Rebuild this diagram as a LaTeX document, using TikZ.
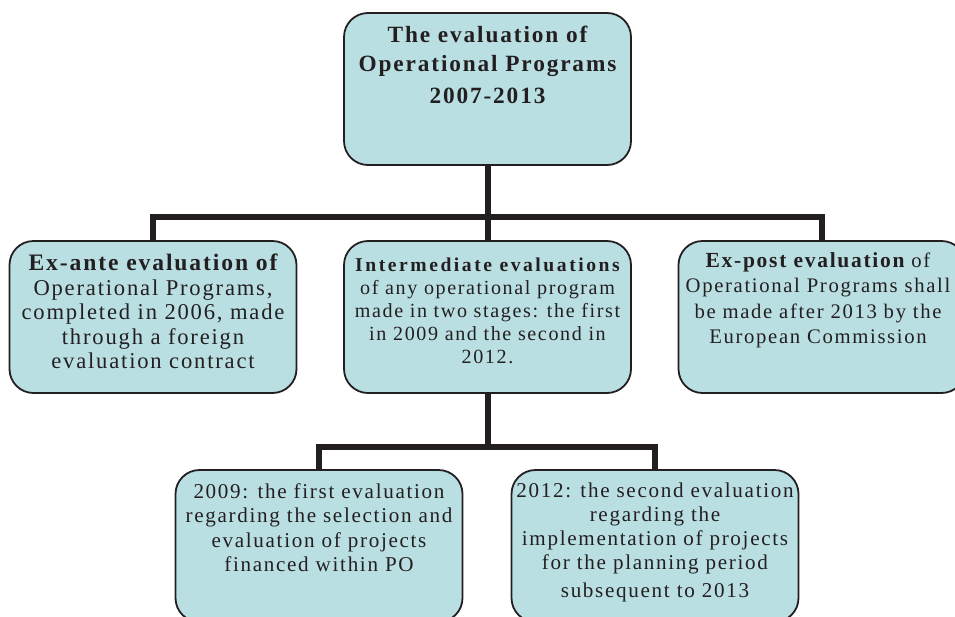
\documentclass[tikz,border=0pt]{standalone}
\usepackage{fontspec}
\setmainfont{Liberation Serif}[LetterSpace=8]
\definecolor{boxfill}{RGB}{186,223,227}
\definecolor{ink}{RGB}{35,31,32}
\begin{document}
\begin{tikzpicture}[x=1pt,y=-1pt,
  box/.style={draw=ink, line width=1.8pt, fill=boxfill, rounded corners=24pt,
    minimum width=287pt, minimum height=152pt, inner sep=0pt},
  txt/.style={anchor=north, align=center, inner sep=0pt, text=ink},
  conn/.style={draw=ink, line width=6pt}]
\useasboundingbox (0,0) rectangle (955,616);
\clip (0,0) rectangle (955,616);
% boxes
\node[box] (top) at (487.5,89) {};
\node[box] (exante) at (153,317) {};
\node[box] (inter) at (487.5,317) {};
\node[box] (expost) at (822,317) {};
\node[box] (first) at (319,546) {};
\node[box] (second) at (655,546) {};
% junctions
\coordinate (j1) at (487.5,217);
\coordinate (j2) at (487.5,447);
% connectors
\draw[conn] (top.south) -- (j1);
\draw[conn] (exante.north) |- (j1) -| (expost.north);
\draw[conn] (j1) -- (inter.north);
\draw[conn] (inter.south) -- (j2);
\draw[conn] (first.north) |- (j2) -| (second.north);
% texts
\node[txt, font=\fontsize{23.3}{29}\selectfont\bfseries] (ttop) at (487.5,26)
  {The evaluation of\\Operational Programs\\[3pt]2007-2013};
\node[txt, font=\fontsize{22.6}{24.5}\selectfont] (texante) at (153,254)
  {{\fontsize{23.6}{24.5}\selectfont\bfseries Ex-ante evaluation of}\\Operational Programs,\\completed in 2006, made\\through a foreign\\evaluation contract};
\node[txt, font=\fontsize{20.1}{23}\selectfont] (tinter) at (487.5,258)
  {{\bfseries\addfontfeature{LetterSpace=13}\fontsize{19.6}{23}\selectfont Intermediate evaluations}\\of any operational program\\made in two stages: the first\\in 2009 and the second in\\2012.};
\node[txt, font=\fontsize{20.7}{25.5}\selectfont] (texpost) at (818,252)
  {{\bfseries\fontsize{21.5}{25.5}\selectfont Ex-post evaluation} of\\Operational Programs shall\\be made after 2013 by the\\European Commission};
\node[txt, font=\fontsize{21.1}{24.5}\selectfont] (tfirst) at (319,483)
  {2009: the first evaluation\\regarding the selection and\\evaluation of projects\\financed within PO};
\node[txt, font=\fontsize{21.1}{24}\selectfont] (tsecond) at (655,483)
  {2012: the second evaluation\\regarding the\\implementation of projects\\for the planning period\\[4pt]subsequent to 2013};
\end{tikzpicture}
\end{document}
